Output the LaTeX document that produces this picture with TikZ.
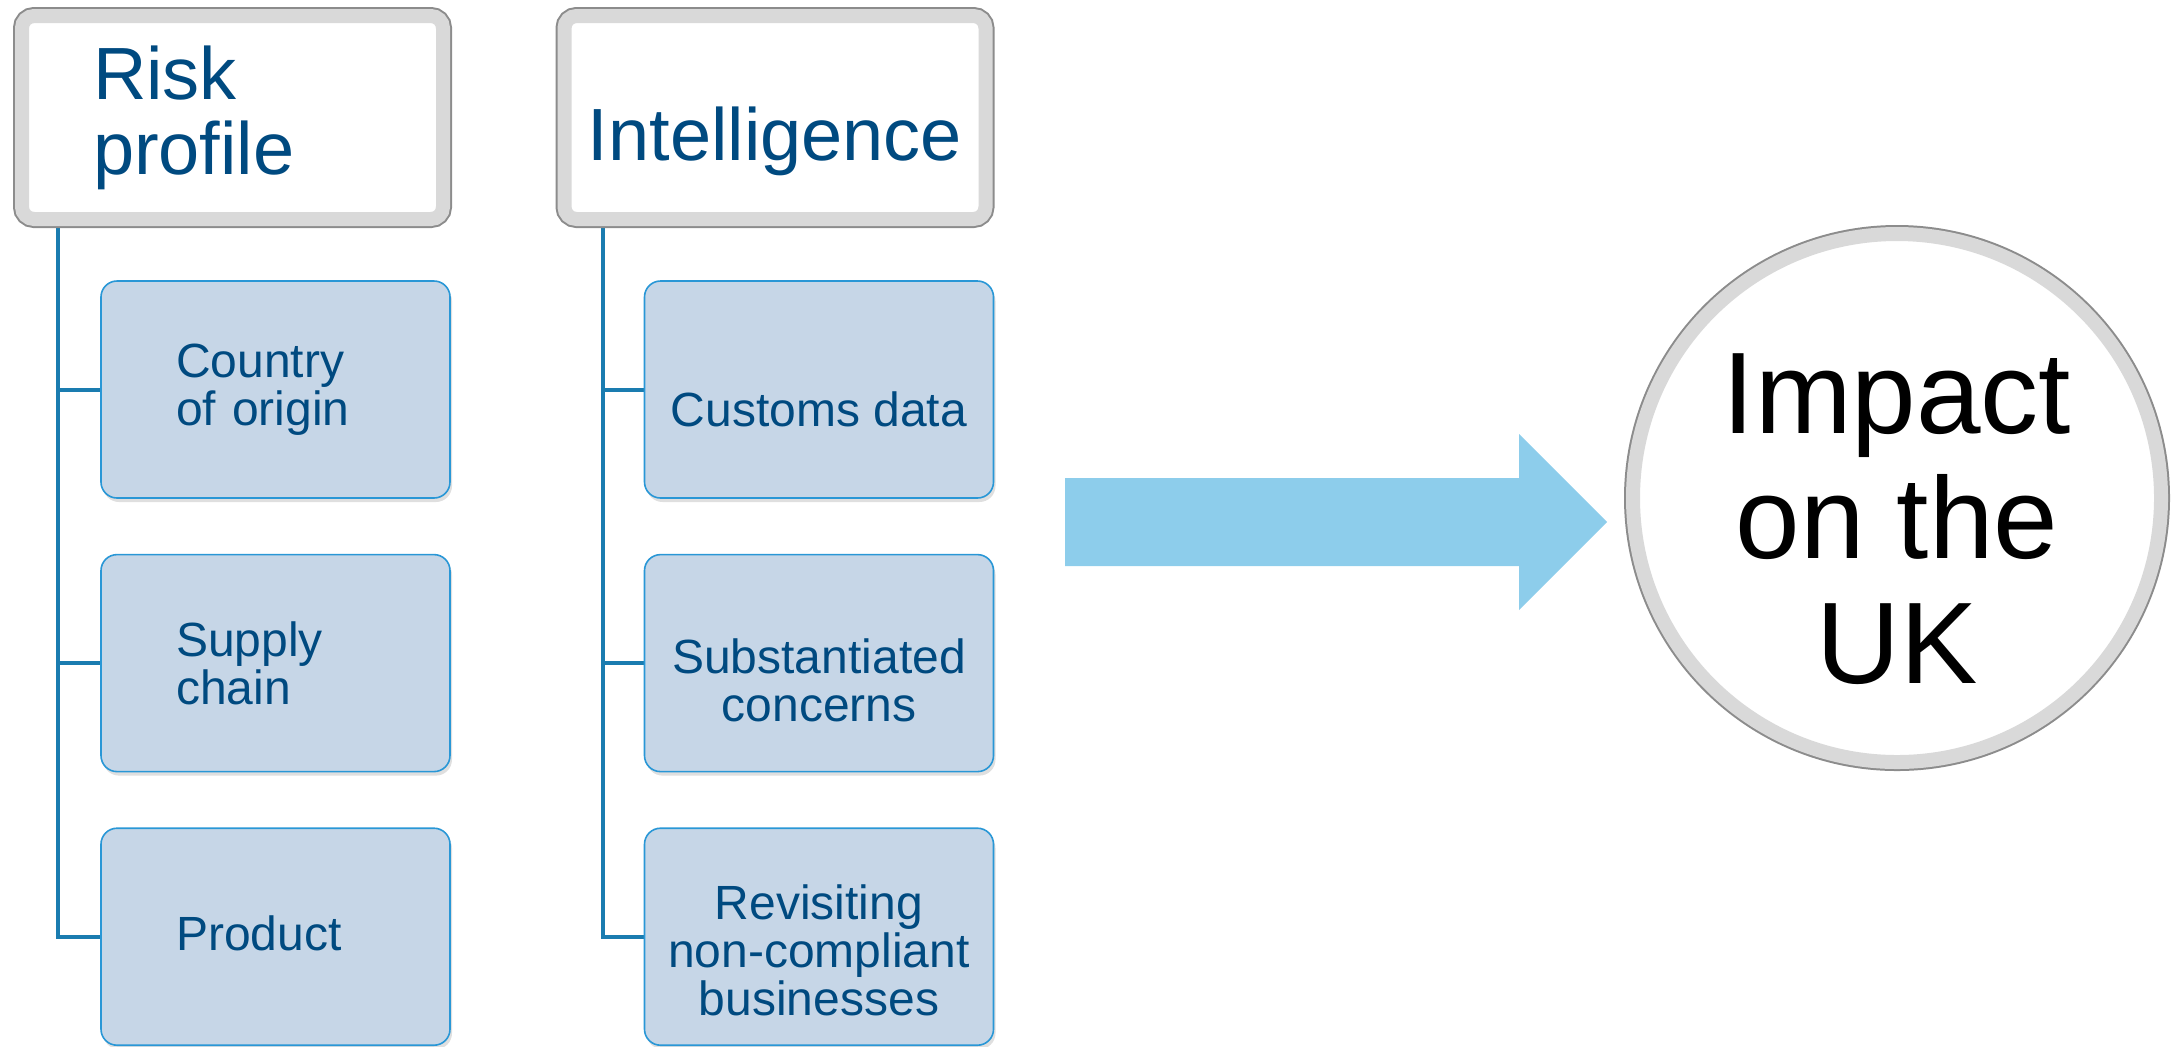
\documentclass[tikz,border=0pt]{standalone}
\usepackage{fontspec}
\setmainfont{Liberation Sans}
\usetikzlibrary{positioning,shadows,backgrounds}
\definecolor{txtblue}{RGB}{0,74,128}
\definecolor{rimgray}{RGB}{140,140,140}
\definecolor{bandgray}{RGB}{217,217,217}
\definecolor{boxfill}{RGB}{198,214,231}
\definecolor{boxedge}{RGB}{41,151,214}
\definecolor{branchblue}{RGB}{26,124,176}
\definecolor{arrowblue}{RGB}{141,205,235}
\tikzset{
  hdrbox/.style={rectangle, rounded corners=6pt, fill=white, draw=bandgray, line width=7pt,
    preaction={drop shadow={shadow xshift=0pt, shadow yshift=-2pt, opacity=0.15}},
    preaction={draw=rimgray, line width=9pt},
    minimum width=210.5pt, minimum height=101.5pt, inner sep=0pt, text=txtblue,
    font=\fontsize{37}{37.5}\selectfont},
  childbox/.style={rectangle, rounded corners=8pt, fill=boxfill, draw=boxedge, line width=0.8pt,
    drop shadow={shadow xshift=1pt, shadow yshift=-2pt, opacity=0.25},
    minimum width=174.5pt, minimum height=108.5pt, inner sep=0pt, text=txtblue,
    font=\fontsize{24}{24}\selectfont},
  leftbox/.style={childbox, text width=99.5pt, align=left},
  rightbox/.style={childbox, align=center},
  branch/.style={draw=branchblue, line width=2pt},
  ring/.style={circle, fill=white, draw=bandgray, line width=7pt,
    preaction={draw=rimgray, line width=9pt},
    minimum size=264pt, inner sep=0pt, align=center,
    font=\fontsize{58}{62.5}\selectfont}
}
\begin{document}
\begin{tikzpicture}[x=0.5pt,y=-0.5pt]
\useasboundingbox (0,0) rectangle (2177,1046);
% headers
\node[hdrbox, text width=139.5pt, align=left] (risk) at (232.5,117.5) {Risk\\profile};
\node[hdrbox, align=center, text height=42.5pt, text depth=0pt] (intel) at (775,117.5) {Intelligence};
% risk profile items
\node[leftbox] (country) at (275.5,389.5) {Country\\of origin};
\node[leftbox, below=27.5pt of country] (supply) {Supply\\chain};
\node[leftbox, below=27.5pt of supply, text height=13.5pt, text depth=0pt] (product) {Product};
% intelligence items
\node[rightbox, text height=36.5pt, text depth=0pt] (customs) at (819,389.5) {Customs data};
\node[rightbox, below=27.5pt of customs, text height=58.5pt, text depth=0pt] (concerns) {Substantiated\\concerns};
\node[rightbox, below=27.5pt of concerns, text height=78.5pt, text depth=0pt] (revisit) {Revisiting\\non-compliant\\businesses};
% branches
\begin{scope}[on background layer]
  \coordinate (rtop) at ([xshift=21.5pt]risk.south west);
  \foreach \c in {country,supply,product}
    \draw[branch] (rtop) |- (\c.west);
  \coordinate (itop) at ([xshift=22.5pt]intel.south west);
  \foreach \c in {customs,concerns,revisit}
    \draw[branch] (itop) |- (\c.west);
\end{scope}
% big arrow
\fill[arrowblue] (1065,478) -- (1519,478) -- (1519,434) -- (1607,522)
  -- (1519,610) -- (1519,566) -- (1065,566) -- cycle;
% result
\node[ring, text height=185pt, text depth=0pt] (impact) at (1897,498) {Impact\\on the\\UK};
\end{tikzpicture}
\end{document}
